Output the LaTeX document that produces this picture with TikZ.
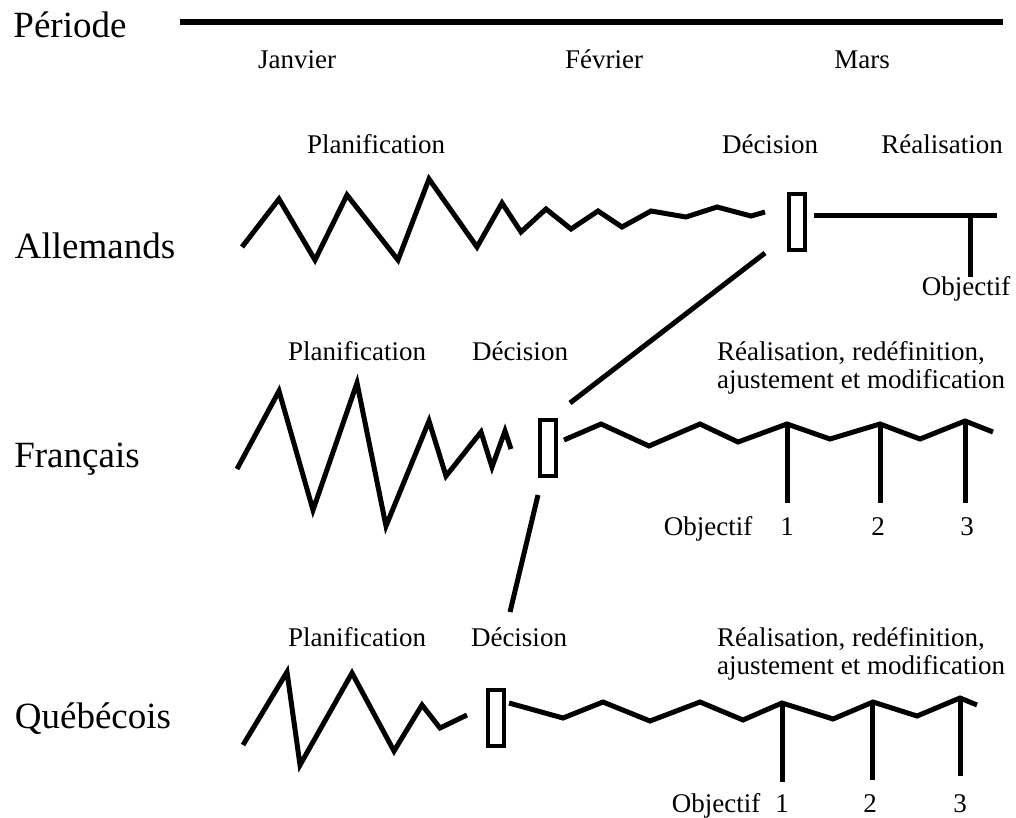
\documentclass[tikz,border=0pt]{standalone}
\usepackage{fontspec}
\setmainfont{Liberation Serif}
\usetikzlibrary{calc}
\tikzstyle{big}=[inner sep=0pt,anchor=base,font=\fontsize{37}{40}\selectfont]
\tikzstyle{lbl}=[inner sep=0pt,anchor=base,font=\fontsize{27}{28}\selectfont]
\tikzstyle{dec}=[draw=black,line width=4pt,inner sep=0pt,
  minimum width=16pt,minimum height=56pt]
\tikzstyle{zz}=[line width=5pt]
\tikzstyle{tick}=[line width=5pt]

\begin{document}
\begin{tikzpicture}[x=1pt, y=-1pt]
    \useasboundingbox (0, 0) rectangle (1016, 817);
    % periode
    \node [style=big] (per) at (70, 37) {Période};
    \coordinate (t0) at (180, 22);
    \coordinate (t1) at (1003, 22);
    \draw [line width=6pt] (t0) to (t1);
    \node [style=lbl] (jan) at (297, 68) {Janvier};
    \node [style=lbl] (fev) at (604, 68) {Février};
    \node [style=lbl] (mar) at (862, 68) {Mars};
    % allemands
    \node [style=big] (all) at (95, 258) {Allemands};
    \node [style=lbl] (pla) at (376, 153) {Planification};
    \node [style=lbl] (dea) at (770, 153) {Décision};
    \node [style=lbl] (rea) at (942, 153) {Réalisation};
    \draw [style=zz] (242, 247) -- (279, 199) -- (315, 260) -- (347, 195)
        -- (398, 260) -- (429, 179) -- (477, 247) -- (502, 203) -- (521, 232)
        -- (546, 209) -- (571, 229) -- (598, 211) -- (622, 227) -- (651, 211)
        -- (686, 217) -- (717, 207) -- (751, 216) -- (765, 212);
    \node [style=dec] (ba) at (797, 221.5) {};
    \coordinate (ra0) at (814, 215);
    \coordinate (ra1) at (997, 215);
    \coordinate (ta) at (970, 215);
    \coordinate (oa) at (970, 277);
    \draw [style=zz] (ra0) to (ra1);
    \draw [style=tick] (ta) to (oa);
    \node [style=lbl] (oba) at (966, 295) {Objectif};
    % francais
    \node [style=big] (fra) at (77, 467) {Français};
    \node [style=lbl] (plf) at (357, 360) {Planification};
    \node [style=lbl] (def) at (520, 360) {Décision};
    \node [style=lbl, anchor=base west, align=left] (ref) at (717, 388)
        {Réalisation, redéfinition,\\ajustement et modification};
    \draw [style=zz] (237, 469) -- (279, 391) -- (313, 510) -- (357, 383)
        -- (386, 526) -- (429, 421) -- (446, 476) -- (481, 432) -- (492, 467)
        -- (505, 431) -- (511, 449);
    \node [style=dec] (bf) at (547.5, 447.5) {};
    \draw [style=zz] (564, 440) -- (601, 424) -- (649, 446) -- (700, 424)
        -- (738, 442) -- (787, 424) -- (830, 439) -- (880, 424) -- (920, 439)
        -- (965, 421) -- (993, 432);
    \coordinate (tf1) at (787, 424);
    \coordinate (tf2) at (880, 424);
    \coordinate (tf3) at (965, 421);
    \coordinate (of1) at (787, 503);
    \coordinate (of2) at (880, 503);
    \coordinate (of3) at (965, 503);
    \draw [style=tick] (tf1) to (of1);
    \draw [style=tick] (tf2) to (of2);
    \draw [style=tick] (tf3) to (of3);
    \node [style=lbl] (obf) at (708, 535) {Objectif};
    \node [style=lbl] (nf1) at (787, 535) {1};
    \node [style=lbl] (nf2) at (878, 535) {2};
    \node [style=lbl] (nf3) at (967, 535) {3};
    % quebecois
    \node [style=big] (que) at (93, 728) {Québécois};
    \node [style=lbl] (plq) at (357, 646) {Planification};
    \node [style=lbl] (deq) at (519, 646) {Décision};
    \node [style=lbl, anchor=base west, align=left] (req) at (717, 674)
        {Réalisation, redéfinition,\\ajustement et modification};
    \draw [style=zz] (243, 745) -- (287, 672) -- (300, 765) -- (352, 673)
        -- (394, 751) -- (422, 705) -- (440, 728) -- (467, 715);
    \node [style=dec] (bq) at (495.5, 717.5) {};
    \draw [style=zz] (509, 703) -- (563, 718) -- (603, 702) -- (650, 721)
        -- (700, 702) -- (743, 720) -- (782, 703) -- (833, 719) -- (873, 702)
        -- (917, 716) -- (960, 698) -- (977, 705);
    \coordinate (tq1) at (782, 703);
    \coordinate (tq2) at (872, 702);
    \coordinate (tq3) at (960, 698);
    \coordinate (oq1) at (782, 782);
    \coordinate (oq2) at (872, 780);
    \coordinate (oq3) at (960, 776);
    \draw [style=tick] (tq1) to (oq1);
    \draw [style=tick] (tq2) to (oq2);
    \draw [style=tick] (tq3) to (oq3);
    \node [style=lbl] (obq) at (716, 812) {Objectif};
    \node [style=lbl] (nq1) at (782, 812) {1};
    \node [style=lbl] (nq2) at (870, 812) {2};
    \node [style=lbl] (nq3) at (960, 812) {3};
    % liens entre decisions
    \coordinate (la) at (765, 253);
    \coordinate (lf) at (570, 403);
    \coordinate (lf2) at (538, 495);
    \coordinate (lq) at (510, 612);
    \draw [style=zz] (la) to (lf);
    \draw [style=zz] (lf2) to (lq);
\end{tikzpicture}
\end{document}
